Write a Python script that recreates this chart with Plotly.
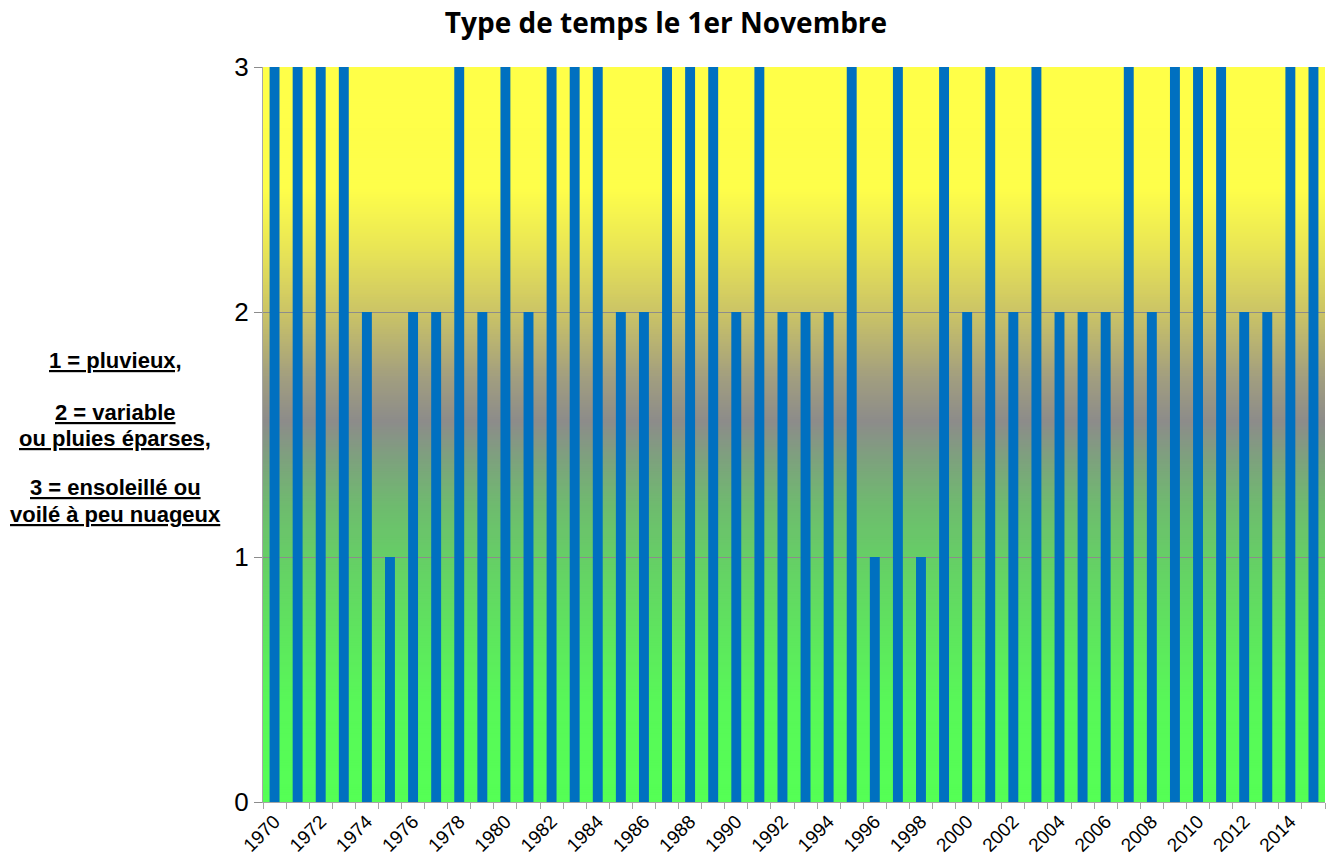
import plotly.graph_objects as go

years = list(range(1970, 2016))
weather_type = [3, 3, 3, 3, 2, 1, 2, 2, 3, 2,
                3, 2, 3, 3, 3, 2, 2, 3, 3, 3,
                2, 3, 2, 2, 2, 3, 1, 3, 1, 3,
                2, 3, 2, 3, 2, 2, 2, 3, 2, 3,
                3, 3, 2, 2, 3, 3]
tick_years = list(range(1970, 2015, 2))
tick_labels = [str(y) for y in tick_years]

legend_lines = ["1 = pluvieux,", "", "2 = variable", "ou pluies éparses,", "",
                "3 = ensoleillé ou", "voilé à peu nuageux"]

# background gradient stops (value on y axis, colour)
grad_stops = [
    (0.00, (85, 255, 85)),
    (0.40, (88, 248, 88)),
    (0.65, (93, 232, 93)),
    (1.00, (102, 206, 102)),
    (1.20, (110, 188, 110)),
    (1.38, (124, 164, 124)),
    (1.55, (140, 140, 138)),
    (1.72, (160, 156, 128)),
    (2.00, (203, 196, 102)),
    (2.25, (232, 228, 86)),
    (2.50, (254, 254, 74)),
    (3.00, (255, 255, 72)),
]


def grad_color(v):
    for (v0, c0), (v1, c1) in zip(grad_stops[:-1], grad_stops[1:]):
        if v0 <= v <= v1:
            t = (v - v0) / (v1 - v0)
            c = [round(a + (b - a) * t) for a, b in zip(c0, c1)]
            return f"rgb({c[0]},{c[1]},{c[2]})"
    c = grad_stops[-1][1]
    return f"rgb({c[0]},{c[1]},{c[2]})"


fig = go.Figure()
fig.add_trace(go.Bar(
    x=years, y=weather_type,
    marker=dict(color="#0070C0", line=dict(width=0)),
    showlegend=False,
))

shapes = []
n = 300
step = 3.0 / n
for i in range(n):
    y0 = i * step
    shapes.append(dict(
        type="rect", xref="paper", yref="y", x0=0, x1=1,
        y0=y0, y1=min(3.0, y0 + step * 1.6),
        fillcolor=grad_color(y0 + step / 2), line=dict(width=0), layer="below",
    ))

annotations = []
line_y = [360, 386, 412, 438, 463, 488, 514]
for txt, yy in zip(legend_lines, line_y):
    if not txt:
        continue
    annotations.append(dict(
        text=f"<b><u>{txt}</u></b>", xref="paper", yref="paper",
        x=(115 - 263) / 1062, y=1 - (yy - 67) / 735,
        xanchor="center", yanchor="middle", showarrow=False,
        font=dict(family="Liberation Sans, Arial", size=22, color="black"),
    ))

fig.update_layout(
    width=1329, height=863,
    margin=dict(l=263, r=4, t=67, b=61),
    paper_bgcolor="white", plot_bgcolor="white",
    title=dict(text="<b>Type de temps le 1er Novembre</b>", x=(666 - 263) / 1062, xref="paper",
               xanchor="center", y=1 - 23 / 863, yanchor="middle",
               font=dict(family="Open Sans", size=28, color="black")),
    bargap=0.57,
    shapes=shapes,
    annotations=annotations,
    xaxis=dict(
        range=[1969.5, 2015.5], tickmode="array", tickvals=tick_years, ticktext=tick_labels,
        tickangle=-45, ticks="", showgrid=False, showline=True, linecolor="#A6A6A6",
        tickfont=dict(family="Liberation Sans, Arial", size=19, color="black"),
        minor=dict(tickmode="linear", tick0=1969.5, dtick=1, ticks="outside", ticklen=6,
                   tickcolor="#A6A6A6", showgrid=False),
        zeroline=False,
    ),
    yaxis=dict(
        range=[0, 3], tickvals=[0, 1, 2, 3], ticks="outside", ticklen=8, tickcolor="#8C8C8C",
        showgrid=True, gridcolor="#8C8C8C", gridwidth=1, showline=True, linecolor="#A6A6A6",
        zeroline=False,
        tickfont=dict(family="Liberation Sans, Arial", size=26, color="black"),
    ),
)

fig.write_html("out.html", config={"displayModeBar": False},
               post_script="document.body.style.margin='0';")
